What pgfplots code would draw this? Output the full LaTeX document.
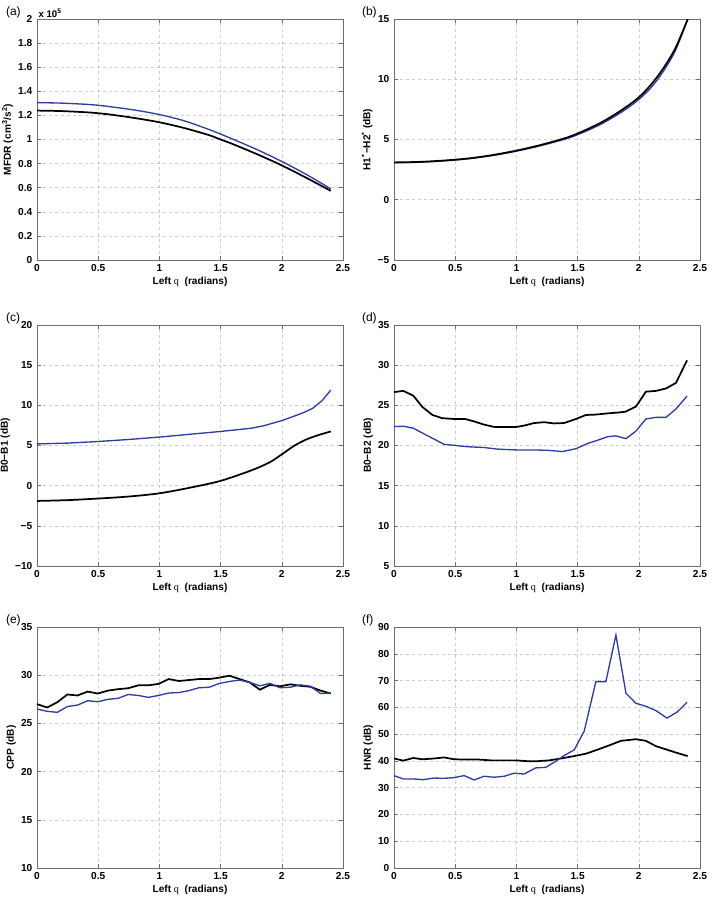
\documentclass[border=0pt]{standalone}
\usepackage{pgfplots}
\pgfplotsset{compat=1.18}
\usepackage{fontspec}
\setmainfont{Liberation Sans}
\newfontfamily\qfont{Liberation Serif}
\definecolor{myblue}{RGB}{48,62,155}
\definecolor{boxgray}{RGB}{110,110,110}
\pgfplotsset{
  panel/.style={
    scale only axis, width=229.5pt, height=180.75pt,
    anchor=south west,
    xmin=0, xmax=2.5, xtick={0,0.5,...,2.5},
    grid=major,
    major grid style={dash pattern=on 2.5pt off 2pt, gray!40, line width=0.4pt},
    axis line style={boxgray, line width=0.5pt},
    tick style={boxgray, line width=0.4pt},
    tick align=inside, major tick length=3pt,
    xtick pos=both, ytick pos=both,
    /pgf/number format/assume math mode=true,
    tick label style={font=\bfseries\fontsize{7.6}{8}\selectfont},
    label style={font=\bfseries\fontsize{7.6}{8}\selectfont},
    xlabel={Left {\qfont\mdseries q} \ (radians)},
    xlabel style={yshift=3pt},
    ylabel style={yshift=-3pt},
  },
  blk/.style={black, line width=1.3pt},
  blu/.style={myblue, line width=1.0pt},
}
\begin{document}
\begin{tikzpicture}
\useasboundingbox (0,0) rectangle (533.25pt,-675pt);
\tikzset{plab/.style={font=\fontsize{9}{10}\selectfont, anchor=west}}
\node[plab] at (1pt,-9.5pt) {(a)};
\node[plab] at (268pt,-9.5pt) {(b)};
\node[plab] at (1pt,-239pt) {(c)};
\node[plab] at (268pt,-239pt) {(d)};
\node[plab] at (1pt,-465.5pt) {(e)};
\node[plab] at (268pt,-465.5pt) {(f)};

% (a)
\begin{axis}[panel, at={(27.75pt,-195pt)},
  ymin=0, ymax=2, ytick={0,0.2,...,2.01},
  ylabel={MFDR (cm\textsuperscript{3}/s\textsuperscript{2})},
  after end axis/.code={\node[anchor=south west, inner sep=1pt, font=\bfseries\fontsize{7.2}{8}\selectfont] at (rel axis cs:0,1) {x 10\textsuperscript{5}};}]
\addplot[blu, smooth] coordinates {(0,1.306)(0.2,1.302)(0.4,1.292)(0.5,1.284)(0.6,1.272)(0.8,1.244)(1.0,1.207)(1.2,1.156)(1.4,1.085)(1.5,1.045)(1.6,1.003)(1.8,0.915)(2.0,0.818)(2.2,0.71)(2.4,0.591)};
\addplot[blk, smooth] coordinates {(0,1.240)(0.2,1.236)(0.4,1.226)(0.5,1.218)(0.6,1.207)(0.8,1.178)(1.0,1.143)(1.2,1.096)(1.4,1.038)(1.5,1.000)(1.6,0.962)(1.8,0.877)(2.0,0.785)(2.2,0.682)(2.4,0.574)};
\end{axis}

% (b)
\begin{axis}[panel, at={(295.5pt,-195pt)},
  ymin=-5, ymax=15, ytick={-5,0,5,10,15}, yticklabels={−5,0,5,10,15},
  ylabel={H1\textsuperscript{*}−H2\textsuperscript{*} (dB)}]
\addplot[blu, smooth] coordinates {(0,3.07)(0.2,3.11)(0.4,3.22)(0.6,3.39)(0.8,3.66)(1.0,4.03)(1.2,4.49)(1.4,5.04)(1.5,5.4)(1.6,5.83)(1.7,6.32)(1.8,6.9)(1.9,7.55)(2.0,8.32)(2.1,9.3)(2.2,10.65)(2.3,12.4)(2.4,15.0)};
\addplot[blk, smooth] coordinates {(0,3.1)(0.2,3.14)(0.4,3.25)(0.6,3.42)(0.8,3.7)(1.0,4.08)(1.2,4.55)(1.4,5.12)(1.5,5.5)(1.6,5.95)(1.7,6.45)(1.8,7.05)(1.9,7.72)(2.0,8.5)(2.1,9.55)(2.2,10.9)(2.3,12.6)(2.4,15.0)};
\end{axis}

% (c)
\begin{axis}[panel, at={(27.75pt,-424.5pt)},
  ymin=-10, ymax=20, ytick={-10,-5,0,5,10,15,20}, yticklabels={−10,−5,0,5,10,15,20},
  ylabel={B0−B1 (dB)}]
\addplot[blu] coordinates {(0,5.2)(0.25,5.3)(0.5,5.5)(0.75,5.75)(1.0,6.05)(1.25,6.4)(1.5,6.75)(1.75,7.15)(1.85,7.45)(2.0,8.1)(2.1,8.65)(2.17,9.05)(2.25,9.6)(2.33,10.6)(2.4,11.9)};
\addplot[blk, smooth] coordinates {(0,-1.9)(0.25,-1.8)(0.5,-1.6)(0.75,-1.35)(1.0,-0.95)(1.25,-0.25)(1.5,0.6)(1.75,1.9)(1.9,2.9)(2.0,3.9)(2.1,4.95)(2.2,5.75)(2.3,6.3)(2.4,6.75)};
\end{axis}

% (d)
\begin{axis}[panel, at={(295.5pt,-424.5pt)},
  ymin=5, ymax=35, ytick={5,10,...,35},
  ylabel={B0−B2 (dB)}]
\addplot[blk] coordinates {(0,26.65)(0.076,26.8)(0.158,26.2)(0.232,24.8)(0.314,23.8)(0.395,23.4)(0.491,23.3)(0.581,23.3)(0.654,23.0)(0.736,22.6)(0.823,22.3)(0.913,22.3)(0.998,22.3)(1.069,22.5)(1.145,22.8)(1.227,22.9)(1.309,22.75)(1.39,22.8)(1.486,23.3)(1.568,23.8)(1.649,23.85)(1.745,24.0)(1.827,24.1)(1.889,24.2)(1.977,24.85)(2.058,26.7)(2.14,26.8)(2.222,27.1)(2.304,27.8)(2.394,30.6)};
\addplot[blu] coordinates {(0,22.35)(0.076,22.4)(0.158,22.15)(0.245,21.45)(0.327,20.8)(0.409,20.15)(0.504,20.0)(0.6,19.85)(0.736,19.75)(0.845,19.55)(0.998,19.45)(1.145,19.45)(1.254,19.4)(1.377,19.25)(1.486,19.6)(1.581,20.25)(1.663,20.65)(1.745,21.1)(1.813,21.2)(1.895,20.85)(1.977,21.8)(2.058,23.3)(2.14,23.5)(2.222,23.5)(2.304,24.55)(2.394,26.15)};
\end{axis}

% (e)
\begin{axis}[panel, at={(27.75pt,-651pt)},
  ymin=10, ymax=35, ytick={10,15,...,35},
  ylabel={CPP (dB)}]
\addplot[blk] coordinates {(0,27.0)(0.083,26.65)(0.166,27.2)(0.248,28.0)(0.331,27.9)(0.414,28.3)(0.497,28.1)(0.579,28.4)(0.662,28.55)(0.745,28.65)(0.828,28.95)(0.91,28.95)(0.993,29.1)(1.076,29.6)(1.159,29.4)(1.241,29.5)(1.324,29.6)(1.407,29.6)(1.49,29.75)(1.572,29.95)(1.655,29.6)(1.738,29.25)(1.821,28.5)(1.903,29.0)(1.986,28.85)(2.069,29.05)(2.152,28.9)(2.234,28.8)(2.317,28.4)(2.4,28.1)};
\addplot[blu] coordinates {(0,26.5)(0.083,26.25)(0.166,26.15)(0.248,26.75)(0.331,26.9)(0.414,27.35)(0.497,27.25)(0.579,27.5)(0.662,27.6)(0.745,28.0)(0.828,27.9)(0.91,27.7)(0.993,27.9)(1.076,28.15)(1.159,28.2)(1.241,28.4)(1.324,28.7)(1.407,28.75)(1.49,29.15)(1.572,29.35)(1.655,29.5)(1.738,29.25)(1.821,28.9)(1.903,29.15)(1.986,28.7)(2.069,28.75)(2.152,29.0)(2.234,28.85)(2.317,28.1)(2.4,28.15)};
\end{axis}

% (f)
\begin{axis}[panel, at={(295.5pt,-651pt)},
  ymin=0, ymax=90, ytick={0,10,...,90},
  ylabel={HNR (dB)}]
\addplot[blk] coordinates {(0,40.9)(0.076,40.1)(0.158,41.1)(0.232,40.6)(0.327,40.9)(0.409,41.3)(0.491,40.6)(0.6,40.5)(0.695,40.5)(0.791,40.2)(0.886,40.2)(0.995,40.2)(1.09,39.9)(1.172,39.9)(1.268,40.2)(1.363,40.9)(1.472,41.8)(1.568,42.7)(1.663,44.2)(1.758,45.8)(1.854,47.5)(1.977,48.1)(2.058,47.5)(2.14,45.5)(2.222,44.3)(2.304,43.1)(2.399,41.8)};
\addplot[blu] coordinates {(0,34.5)(0.076,33.25)(0.158,33.25)(0.24,33.0)(0.327,33.6)(0.409,33.5)(0.491,33.75)(0.573,34.5)(0.654,32.9)(0.736,34.25)(0.818,33.9)(0.9,34.25)(0.981,35.4)(1.063,35.1)(1.159,37.4)(1.24,37.6)(1.309,39.5)(1.39,42.0)(1.472,44.1)(1.554,51.1)(1.649,69.6)(1.731,69.6)(1.813,87.0)(1.895,65.3)(1.977,61.5)(2.058,60.4)(2.14,58.8)(2.23,56.0)(2.312,58.2)(2.394,61.9)};
\end{axis}
\end{tikzpicture}
\end{document}
